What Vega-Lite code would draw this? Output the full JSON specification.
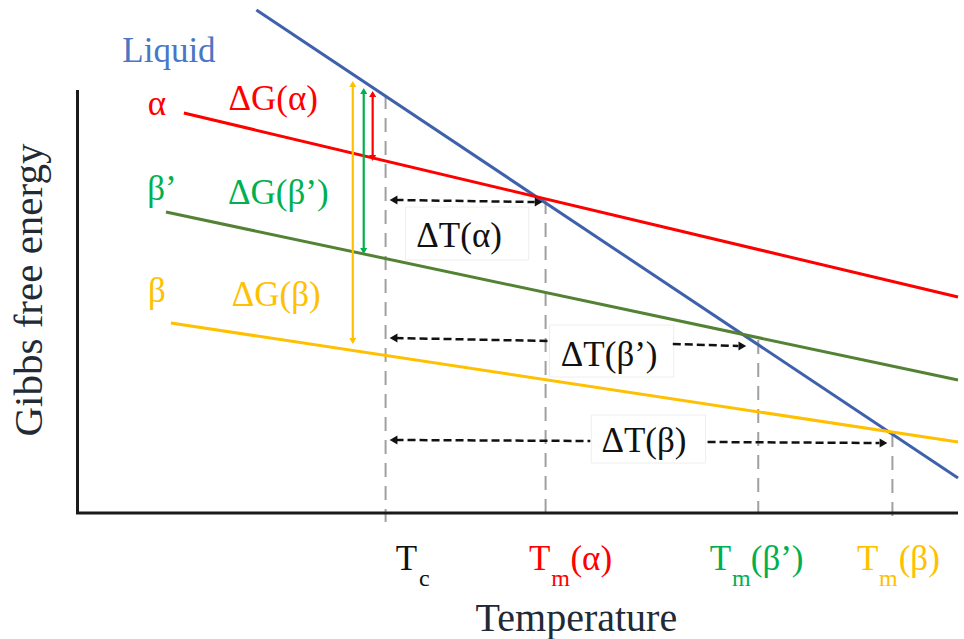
{
  "$schema": "https://vega.github.io/schema/vega-lite/v6.json",
  "width": 964,
  "height": 639,
  "autosize": {"type": "fit", "contains": "padding"},
  "padding": 0,
  "background": "white",
  "config": {"view": {"stroke": null}},
  "datasets": {
    "phases": [
      {"c": "liquid", "T": 258, "G": 629}, {"c": "liquid", "T": 964, "G": 161},
      {"c": "alpha", "T": 185, "G": 526}, {"c": "alpha", "T": 964, "G": 342},
      {"c": "betapLine", "T": 167, "G": 427}, {"c": "betapLine", "T": 964, "G": 259},
      {"c": "beta", "T": 172, "G": 316}, {"c": "beta", "T": 964, "G": 197}
    ],
    "frame": [
      {"c": "axis", "T": 78, "G": 549, "T2": 78, "G2": 125},
      {"c": "axis", "T": 76.5, "G": 126, "T2": 964, "G2": 126}
    ],
    "guides": [
      {"c": "guide", "T": 388, "G": 544, "T2": 388, "G2": 117},
      {"c": "guide", "T": 549, "G": 439, "T2": 549, "G2": 126},
      {"c": "guide", "T": 763, "G": 299, "T2": 763, "G2": 126},
      {"c": "guide", "T": 898, "G": 206, "T2": 898, "G2": 117}
    ],
    "boxes": [
      {"T": 408, "T2": 532, "G": 432, "G2": 379},
      {"T": 553, "T2": 678, "G": 314, "G2": 262},
      {"T": 595, "T2": 710, "G": 224, "G2": 176}
    ],
    "dtArrows": [
      {"c": "ink", "T": 398, "G": 439, "T2": 538, "G2": 437},
      {"c": "ink", "T": 398, "G": 301, "T2": 551, "G2": 298},
      {"c": "ink", "T": 677, "G": 295, "T2": 743, "G2": 293},
      {"c": "ink", "T": 398, "G": 199, "T2": 594, "G2": 198},
      {"c": "ink", "T": 712, "G": 197, "T2": 885, "G2": 196}
    ],
    "dgArrows": [
      {"c": "beta", "T": 355, "G": 556, "T2": 355, "G2": 297},
      {"c": "betap", "T": 366, "G": 549, "T2": 366, "G2": 387},
      {"c": "alpha", "T": 375, "G": 546, "T2": 375, "G2": 480}
    ],
    "heads": [
      {"c": "beta", "T": 355, "G": 555, "dir": "up"},
      {"c": "beta", "T": 355, "G": 298, "dir": "down"},
      {"c": "betap", "T": 366, "G": 548, "dir": "up"},
      {"c": "betap", "T": 366, "G": 388, "dir": "down"},
      {"c": "alpha", "T": 375, "G": 545, "dir": "up"},
      {"c": "alpha", "T": 375, "G": 481, "dir": "down"},
      {"c": "ink", "T": 396, "G": 439, "dir": "left"},
      {"c": "ink", "T": 542, "G": 437, "dir": "right"},
      {"c": "ink", "T": 396, "G": 301, "dir": "left"},
      {"c": "ink", "T": 747, "G": 293, "dir": "right"},
      {"c": "ink", "T": 396, "G": 199, "dir": "left"},
      {"c": "ink", "T": 889, "G": 196, "dir": "right"}
    ],
    "text35": [
      {"c": "liquidText", "label": "Liquid", "T": 170, "G": 577},
      {"c": "alpha", "label": "α", "T": 158, "G": 524},
      {"c": "alpha", "label": "ΔG(α)", "T": 275, "G": 529},
      {"c": "betap", "label": "β’", "T": 163, "G": 439},
      {"c": "betap", "label": "ΔG(β’)", "T": 280, "G": 435},
      {"c": "beta", "label": "β", "T": 158, "G": 337},
      {"c": "beta", "label": "ΔG(β)", "T": 278, "G": 333},
      {"c": "ink", "label": "ΔT(α)", "T": 462, "G": 392},
      {"c": "ink", "label": "ΔT(β’)", "T": 613, "G": 273},
      {"c": "ink", "label": "ΔT(β)", "T": 648, "G": 187},
      {"c": "ink", "label": "T", "T": 409, "G": 69},
      {"c": "alpha", "label": "T", "T": 543, "G": 69},
      {"c": "alpha", "label": "(α)", "T": 595, "G": 69},
      {"c": "betap", "label": "T", "T": 725, "G": 69},
      {"c": "betap", "label": "(β’)", "T": 782, "G": 69},
      {"c": "beta", "label": "T", "T": 873, "G": 69},
      {"c": "beta", "label": "(β)", "T": 925, "G": 69}
    ],
    "tSub": [
      {"c": "ink", "label": "c", "T": 427, "G": 53},
      {"c": "alpha", "label": "m", "T": 564, "G": 53},
      {"c": "betap", "label": "m", "T": 746, "G": 53},
      {"c": "beta", "label": "m", "T": 894, "G": 53}
    ],
    "titles": [
      {"label": "Temperature", "T": 580, "G": 8}
    ],
    "ytitle": [
      {"label": "Gibbs free energy", "T": 42, "G": 349}
    ]
  },
  "encoding": {
    "x": {"field": "T", "type": "quantitative", "scale": {"domain": [0, 964], "nice": false, "zero": false}, "axis": null},
    "y": {"field": "G", "type": "quantitative", "scale": {"domain": [0, 639], "nice": false, "zero": false}, "axis": null}
  },
  "layer": [
    {
      "data": {"name": "boxes"},
      "mark": {"type": "rect", "fill": "white", "stroke": "#eeeeee", "strokeWidth": 1},
      "encoding": {"x2": {"field": "T2"}, "y2": {"field": "G2"}}
    },
    {
      "data": {"name": "guides"},
      "mark": {"type": "rule", "strokeWidth": 2, "strokeDash": [14, 9]},
      "encoding": {
        "x2": {"field": "T2"}, "y2": {"field": "G2"},
        "color": {"field": "c", "type": "nominal", "scale": {"domain": ["liquid", "liquidText", "alpha", "betapLine", "betap", "beta", "ink", "guide", "axis"], "range": ["#3F61AC", "#4A76C6", "#FF0000", "#548235", "#00B050", "#FFC000", "#111111", "#A0A0A0", "#1a1a1a"]}, "legend": null}
      }
    },
    {
      "data": {"name": "dtArrows"},
      "mark": {"type": "rule", "strokeWidth": 2.5, "strokeDash": [8, 4]},
      "encoding": {
        "x2": {"field": "T2"}, "y2": {"field": "G2"},
        "color": {"field": "c", "type": "nominal", "legend": null}
      }
    },
    {
      "data": {"name": "frame"},
      "mark": {"type": "rule", "strokeWidth": 3},
      "encoding": {
        "x2": {"field": "T2"}, "y2": {"field": "G2"},
        "color": {"field": "c", "type": "nominal", "legend": null}
      }
    },
    {
      "data": {"name": "phases"},
      "mark": {"type": "line", "strokeWidth": 3},
      "encoding": {
        "color": {"field": "c", "type": "nominal", "legend": null},
        "detail": {"field": "c"}
      }
    },
    {
      "data": {"name": "dgArrows"},
      "mark": {"type": "rule", "strokeWidth": 2.2},
      "encoding": {
        "x2": {"field": "T2"}, "y2": {"field": "G2"},
        "color": {"field": "c", "type": "nominal", "legend": null}
      }
    },
    {
      "data": {"name": "heads"},
      "transform": [{"filter": "datum.c !== 'ink'"}],
      "mark": {"type": "point", "filled": true, "opacity": 1, "size": 50, "strokeWidth": 0},
      "encoding": {
        "color": {"field": "c", "type": "nominal", "legend": null},
        "shape": {"field": "dir", "type": "nominal", "scale": {"domain": ["up", "down", "left", "right"], "range": ["triangle-up", "triangle-down", "triangle-left", "triangle-right"]}, "legend": null}
      }
    },
    {
      "data": {"name": "heads"},
      "transform": [{"filter": "datum.c === 'ink'"}],
      "mark": {"type": "point", "filled": true, "opacity": 1, "size": 80, "strokeWidth": 0},
      "encoding": {
        "color": {"field": "c", "type": "nominal", "legend": null},
        "shape": {"field": "dir", "type": "nominal", "legend": null}
      }
    },
    {
      "data": {"name": "text35"},
      "mark": {"type": "text", "fontSize": 35, "align": "center", "baseline": "alphabetic", "font": "Liberation Serif"},
      "encoding": {
        "text": {"field": "label"},
        "color": {"field": "c", "type": "nominal", "legend": null}
      }
    },
    {
      "data": {"name": "tSub"},
      "mark": {"type": "text", "fontSize": 24, "align": "center", "baseline": "alphabetic", "font": "Liberation Serif"},
      "encoding": {
        "text": {"field": "label"},
        "color": {"field": "c", "type": "nominal", "legend": null}
      }
    },
    {
      "data": {"name": "titles"},
      "mark": {"type": "text", "fontSize": 40, "align": "center", "baseline": "alphabetic", "font": "Liberation Serif", "color": "#222a35"},
      "encoding": {"text": {"field": "label"}}
    },
    {
      "data": {"name": "ytitle"},
      "mark": {"type": "text", "fontSize": 41, "align": "center", "baseline": "alphabetic", "angle": 270, "font": "Liberation Serif", "color": "#222a35"},
      "encoding": {"text": {"field": "label"}}
    }
  ]
}
